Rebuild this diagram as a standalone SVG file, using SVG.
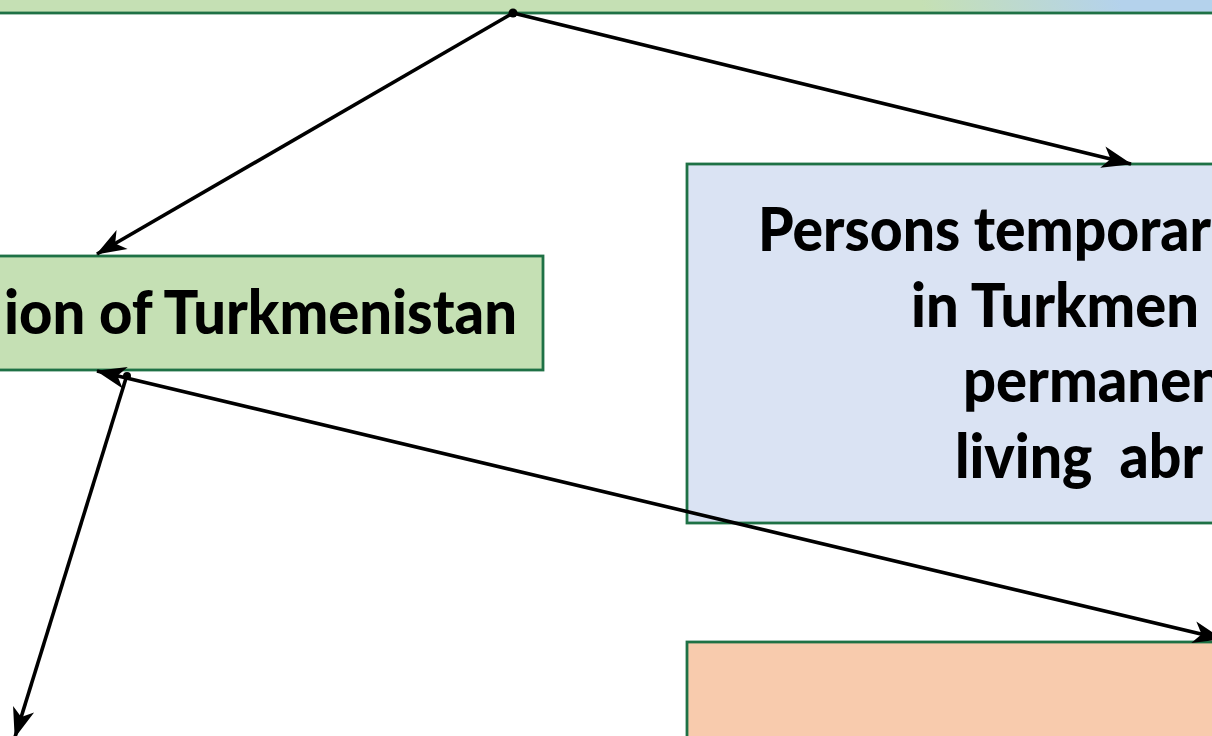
<svg xmlns="http://www.w3.org/2000/svg" width="1212" height="736" viewBox="0 0 1212 736">
<style>
.box{stroke:#1E7145;stroke-width:2.8}
.lbl{font-family:Lato,"Open Sans","Liberation Sans",sans-serif;font-weight:900;font-size:60px;fill:#000}
.con{stroke:#000;stroke-width:3.6;fill:none}
</style>
<defs>
<linearGradient id="topg" gradientUnits="userSpaceOnUse" x1="930" y1="30" x2="1110" y2="-30">
<stop offset="0" stop-color="#C5E0B4"/>
<stop offset="1" stop-color="#B4D2EC"/>
</linearGradient>
<marker id="arr" viewBox="-30 -13 32 26" refX="0" refY="0" markerWidth="32" markerHeight="26" markerUnits="userSpaceOnUse" orient="auto-start-reverse">
<path d="M-29,-11 L1,0 L-29,11 L-21,0 Z" fill="#000"/>
</marker>
</defs>
<rect width="1212" height="736" fill="#fff"/>
<g id="node-top">
<rect class="box" x="-20" y="-100" width="1260" height="113" fill="url(#topg)"/>
</g>
<g id="node-left">
<rect class="box" x="-20" y="256" width="563" height="114" fill="#C5E0B4"/>
<text class="lbl" x="517" y="334" text-anchor="end" textLength="513" lengthAdjust="spacingAndGlyphs">ion of Turkmenistan</text>
</g>
<g id="node-blue">
<rect class="box" x="687" y="164" width="560" height="359" fill="#DAE3F3"/>
<text class="lbl" x="758" y="251" textLength="453" lengthAdjust="spacingAndGlyphs">Persons temporar</text>
<text class="lbl" x="911" y="327" textLength="288" lengthAdjust="spacingAndGlyphs">in Turkmen</text>
<text class="lbl" x="963" y="402" textLength="261" lengthAdjust="spacingAndGlyphs">permanen</text>
<text class="lbl" x="955" y="478" xml:space="preserve" textLength="248" lengthAdjust="spacingAndGlyphs">living  abr</text>
</g>
<g id="node-orange">
<rect class="box" x="687" y="642" width="560" height="150" fill="#F8CBAD"/>
</g>
<g id="connectors">
<path class="con" d="M513,13 L97,254" marker-end="url(#arr)"/>
<path class="con" d="M513,13 L1131,164" marker-end="url(#arr)"/>
<path class="con" d="M97,371 L1222,639" marker-start="url(#arr)" marker-end="url(#arr)"/>
<path class="con" d="M127,375 L15,737" marker-end="url(#arr)"/>
<circle cx="513" cy="13" r="4.5" fill="#000"/>
<circle cx="127" cy="376" r="4" fill="#000"/>
</g>
</svg>
